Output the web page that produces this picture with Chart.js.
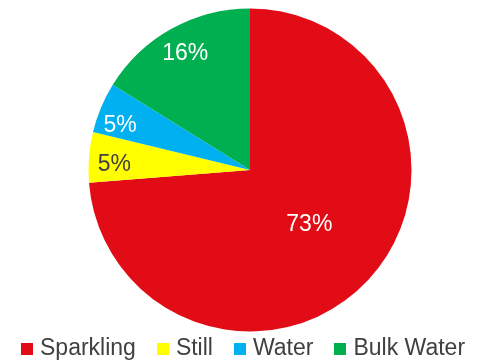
<!DOCTYPE html>
<html>
<head>
<meta charset="utf-8">
<script src="https://cdn.jsdelivr.net/npm/chart.js@4"></script>
<style>
  html, body { margin: 0; padding: 0; background: #fff; }
  #wrap { position: relative; width: 481px; height: 362px; }
  #chart { display: block; }
  #legend {
    position: absolute; left: 21px; top: 336px;
    display: flex;
    font: 23px/23px "Liberation Sans", Arial, sans-serif;
    color: #404040;
    white-space: nowrap;
  }
  .item { display: flex; align-items: center; margin-right: 21px; }
  .swatch { width: 12px; height: 12px; margin-right: 7px; position: relative; top: 1px; }
</style>
</head>
<body>
<div id="wrap">
  <canvas id="chart" width="481" height="362"></canvas>
  <div id="legend"></div>
</div>
<script>
const categories = ['Sparkling', 'Still', 'Water', 'Bulk Water'];
const shares = [73, 5, 5, 16];
const sliceColors = ['#E20C17', '#FFFF00', '#00B0F0', '#00B050'];

// percentage labels: colour, distance from centre (share of radius), small turn in degrees
const labelColors = ['#FFFFFF', '#404040', '#FFFFFF', '#FFFFFF'];
const labelRadius = [0.5, 0.84, 0.85, 0.825];
const labelTurn = [0, -2.3, -3.9, 0];

const sliceLabels = {
  id: 'sliceLabels',
  afterDatasetsDraw(chart) {
    const ctx = chart.ctx;
    const meta = chart.getDatasetMeta(0);
    ctx.save();
    ctx.font = '23px "Liberation Sans", Arial, sans-serif';
    ctx.textAlign = 'center';
    ctx.textBaseline = 'middle';
    meta.data.forEach((arc, i) => {
      const { x, y, startAngle, endAngle, outerRadius } =
        arc.getProps(['x', 'y', 'startAngle', 'endAngle', 'outerRadius'], true);
      const mid = (startAngle + endAngle) / 2 + labelTurn[i] * Math.PI / 180;
      const r = outerRadius * labelRadius[i];
      ctx.fillStyle = labelColors[i];
      ctx.fillText(shares[i] + '%', x + Math.cos(mid) * r, y + Math.sin(mid) * r);
    });
    ctx.restore();
  }
};

const chart = new Chart(document.getElementById('chart'), {
  type: 'pie',
  data: {
    labels: categories,
    datasets: [{
      data: shares,
      backgroundColor: sliceColors,
      borderWidth: 0
    }]
  },
  options: {
    responsive: false,
    devicePixelRatio: 1,
    animation: false,
    layout: { padding: { top: 8.5, bottom: 30.5, left: 19, right: 0 } },
    plugins: {
      legend: { display: false },
      tooltip: { enabled: false }
    }
  },
  plugins: [sliceLabels]
});

// legend row under the pie
const legendBox = document.getElementById('legend');
categories.forEach((name, i) => {
  const item = document.createElement('span');
  item.className = 'item';
  const swatch = document.createElement('span');
  swatch.className = 'swatch';
  swatch.style.background = sliceColors[i];
  item.appendChild(swatch);
  item.appendChild(document.createTextNode(name));
  legendBox.appendChild(item);
});
</script>
</body>
</html>
